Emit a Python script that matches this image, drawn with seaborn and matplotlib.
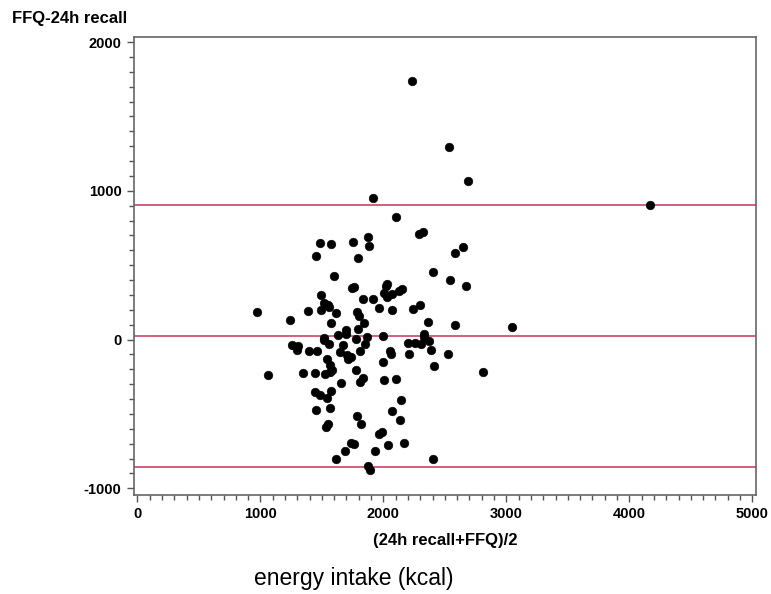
import numpy as np
import pandas as pd
import matplotlib
matplotlib.use("Agg")
import matplotlib.pyplot as plt
import seaborn as sns
from matplotlib.ticker import MultipleLocator

# mean of the two methods (kcal)
mean_kcal = [2233, 2532, 2686, 1918, 4164, 3049, 973, 1062, 1482, 1571,
             1749, 1878, 1886, 1450, 1797, 1595, 1741, 1765, 1490, 1838,
             1515, 1547, 1555, 1385, 1490, 1611, 1789, 1805, 1240, 1571,
             1846, 1700, 1692, 1797, 1628, 1515, 1781, 2104, 2290, 2322,
             2645, 2581, 2403, 2540, 2670, 2031, 2023, 2007, 2031, 2072,
             2128, 2153, 1918, 1967, 2072, 2242, 2298, 2363, 2581, 1870,
             1999, 2330, 2330, 1256, 1305, 1296, 1393, 1458, 1515, 1555,
             1668, 1644, 1708, 1733, 1716, 1813, 1854, 1539, 1563, 1579,
             1563, 1345, 1442, 1523, 1781, 1652, 1813, 1838, 1442, 1482,
             1571, 1539, 1450, 1563, 1789, 1547, 1531, 1821, 1733, 1757,
             1684, 1611, 1878, 1894, 2201, 2258, 2306, 2371, 2387, 2056,
             2064, 2209, 2524, 1999, 2411, 2807, 2007, 2104, 2145, 2072,
             2136, 1967, 1991, 2040, 2169, 1935, 2403]

# difference FFQ - 24h recall (kcal)
diff_kcal = [1738, 1295, 1066, 952, 905, 84, 185, -239, 649, 642,
             656, 689, 629, 562, 548, 427, 346, 353, 299, 276,
             245, 232, 219, 192, 198, 178, 185, 158, 131, 111,
             111, 64, 37, 71, 30, 10, 3, 824, 709, 723,
             622, 582, 454, 400, 360, 373, 360, 313, 286, 306,
             326, 340, 272, 212, 198, 205, 232, 118, 98, 17,
             24, 37, 17, -37, -44, -71, -77, -77, -3, -30,
             -37, -84, -104, -118, -131, -77, -30, -131, -171, -205,
             -219, -225, -225, -232, -205, -293, -286, -259, -353, -373,
             -346, -393, -474, -461, -514, -568, -588, -568, -696, -703,
             -750, -804, -851, -878, -24, -24, -30, -10, -71, -77,
             -98, -98, -98, -151, -178, -219, -272, -266, -407, -481,
             -541, -636, -622, -709, -696, -750, -804]

# mean difference and limits of agreement
mean_diff = 22
upper_loa = 902
lower_loa = -860

x_ticks = [0, 1000, 2000, 3000, 4000, 5000]
y_ticks = [-1000, 0, 1000, 2000]

df = pd.DataFrame({"mean": mean_kcal, "diff": diff_kcal})

sns.set_style("ticks")
plt.rcParams["font.family"] = ["Liberation Sans", "DejaVu Sans"]
plt.rcParams["axes.unicode_minus"] = False
plt.rcParams["text.color"] = "black"
plt.rcParams["axes.labelcolor"] = "black"
plt.rcParams["xtick.labelcolor"] = "black"
plt.rcParams["ytick.labelcolor"] = "black"

fig = plt.figure(figsize=(7.71, 5.94), dpi=100)
ax = fig.add_axes([134 / 771, 1 - 495 / 594, 622 / 771, 458 / 594])

for yv in [upper_loa, mean_diff, lower_loa]:
    ax.axhline(yv, color="#c8345a", lw=1.1, zorder=1)

sns.scatterplot(data=df, x="mean", y="diff", ax=ax, color="black",
                s=40, marker="o", edgecolor="black", linewidth=0.3, zorder=3)

ax.set_xlim(-28, 5030)
ax.set_ylim(-1045, 2034)
ax.set_xticks(x_ticks)
ax.set_yticks(y_ticks)
ax.xaxis.set_minor_locator(MultipleLocator(100))
ax.yaxis.set_minor_locator(MultipleLocator(100))
ax.tick_params(which="major", length=5, width=1, color="#555555",
               labelsize=10.5, pad=4)
ax.tick_params(which="minor", length=3.5, width=1, color="#555555")
for lab in ax.get_xticklabels() + ax.get_yticklabels():
    lab.set_fontweight("bold")

for sp in ax.spines.values():
    sp.set_color("#666666")
    sp.set_linewidth(1.2)

ax.set_xlabel("(24h recall+FFQ)/2", fontsize=12, fontweight="bold", labelpad=8)
ax.set_ylabel("")

fig.text(12 / 771, 1 - 19 / 594, "FFQ-24h recall", fontsize=12,
         fontweight="bold", va="center", ha="left")
fig.text(354 / 771, 1 - 578 / 594, "energy intake (kcal)", fontsize=16.5,
         va="center", ha="center")

plt.savefig("out.png", dpi=100)
